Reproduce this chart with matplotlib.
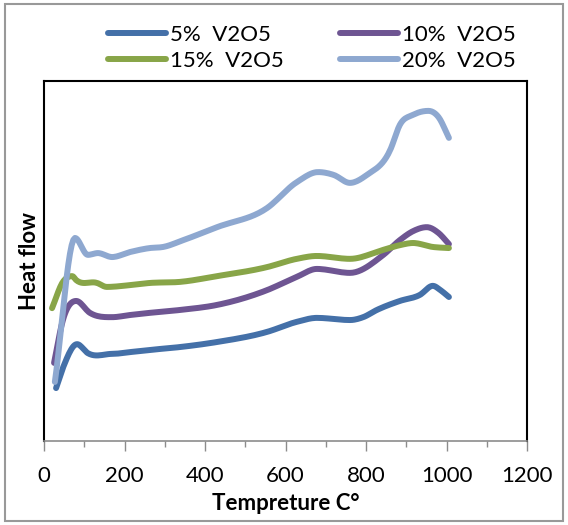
import matplotlib
matplotlib.use("Agg")
import numpy as np
import matplotlib.pyplot as plt
from matplotlib.patches import Rectangle
from matplotlib.ticker import MultipleLocator

plt.rcParams['font.family'] = ['Lato', 'DejaVu Sans']

# temperature (C) and heat flow (arb. units) for each V2O5 loading
t_5 = [30, 48, 82, 109, 169, 214, 263, 338, 430, 554, 628, 678, 760, 793, 827, 884, 934, 966, 985, 1006]
hf_5 = [1.47, 2.06, 2.69, 2.44, 2.42, 2.47, 2.53, 2.61, 2.75, 3.03, 3.31, 3.42, 3.36, 3.44, 3.64, 3.89, 4.06, 4.31, 4.19, 4.00]

t_10 = [25, 47, 80, 114, 169, 214, 263, 338, 430, 554, 628, 678, 760, 843, 884, 917, 951, 980, 1006]
hf_10 = [2.17, 3.36, 3.89, 3.56, 3.44, 3.50, 3.56, 3.64, 3.78, 4.19, 4.56, 4.78, 4.67, 5.17, 5.58, 5.83, 5.94, 5.78, 5.47]

t_15 = [20, 47, 70, 80, 132, 156, 214, 263, 338, 430, 554, 628, 678, 760, 843, 884, 917, 966, 1006]
hf_15 = [3.69, 4.42, 4.58, 4.47, 4.39, 4.28, 4.33, 4.39, 4.42, 4.58, 4.83, 5.06, 5.14, 5.06, 5.31, 5.44, 5.50, 5.39, 5.36]

t_20 = [27, 77, 109, 134, 169, 214, 263, 296, 346, 430, 554, 628, 681, 720, 760, 802, 860, 884, 917, 955, 980, 1006]
hf_20 = [1.64, 5.64, 5.17, 5.22, 5.11, 5.25, 5.36, 5.39, 5.58, 5.94, 6.47, 7.19, 7.47, 7.39, 7.17, 7.39, 8.08, 8.78, 9.06, 9.17, 9.00, 8.42]

series = [
    ('5%  V2O5', t_5, hf_5, '#4470A8'),
    ('10%  V2O5', t_10, hf_10, '#6E5592'),
    ('15%  V2O5', t_15, hf_15, '#88A548'),
    ('20%  V2O5', t_20, hf_20, '#8EA8D0'),
]


def smooth_line(x, y, steps=12):
    """Cubic Hermite curve through the points, slopes from neighbouring points."""
    x = np.asarray(x, float)
    y = np.asarray(y, float)
    m = np.gradient(y, x)
    # keep local peaks/dips flat so the curve does not overshoot there
    for i in range(1, len(y) - 1):
        if (y[i] - y[i - 1]) * (y[i + 1] - y[i]) <= 0:
            m[i] = 0.0
    s = np.linspace(0, 1, steps, endpoint=False)
    h00 = 2 * s ** 3 - 3 * s ** 2 + 1
    h10 = s ** 3 - 2 * s ** 2 + s
    h01 = -2 * s ** 3 + 3 * s ** 2
    h11 = s ** 3 - s ** 2
    xs, ys = [], []
    for i in range(len(x) - 1):
        dx = x[i + 1] - x[i]
        xs.extend(x[i] + s * dx)
        ys.extend(h00 * y[i] + h10 * dx * m[i] + h01 * y[i + 1] + h11 * dx * m[i + 1])
    xs.append(x[-1])
    ys.append(y[-1])
    return xs, ys


fig = plt.figure(figsize=(5.68, 5.25), dpi=100)
W, H = 568, 525
ax = fig.add_axes([44 / W, 1 - 441 / H, (527 - 44) / W, (441 - 81) / H])

lines = {}
for label, t, hf, color in series:
    sx, sy = smooth_line(t, hf)
    ln, = ax.plot(sx, sy, color=color, lw=4.3, solid_capstyle='round',
                  solid_joinstyle='round', label=label)
    lines[label] = ln

ax.set_xlim(0, 1200)
ax.set_ylim(0, 10)
ax.xaxis.set_major_locator(MultipleLocator(200))
ax.xaxis.set_minor_locator(MultipleLocator(100))
ax.tick_params(axis='x', which='major', length=7, width=1, color='#8c8c8c',
               labelsize=16, pad=11)
ax.tick_params(axis='x', which='minor', length=4, width=1, color='#8c8c8c')
ax.set_yticks([])
for side in ['left', 'top', 'right']:
    ax.spines[side].set_color('black')
    ax.spines[side].set_linewidth(1.5)
ax.spines['bottom'].set_color('#8c8c8c')
ax.spines['bottom'].set_linewidth(1.2)

ax.set_xlabel('Tempreture C°', fontsize=16, fontweight='bold', labelpad=5)
ax.set_ylabel('Heat flow', fontsize=16, fontweight='bold', labelpad=3)

# legend reads row by row: 5%, 10% / 15%, 20%
order = ['5%  V2O5', '15%  V2O5', '10%  V2O5', '20%  V2O5']
fig.legend(handles=[lines[k] for k in order], ncol=2, loc='center',
           bbox_to_anchor=(312 / W, 1 - 48 / H),
           frameon=False, fontsize=16, handlelength=2.6, handletextpad=0.2,
           columnspacing=2.5, labelspacing=0.25)

# outer chart border
fig.patches.append(Rectangle((5 / W, 4 / H), (563 - 5) / W, (521 - 4) / H,
                             transform=fig.transFigure, fill=False,
                             edgecolor='#999999', lw=1.5))

fig.savefig('out.png', dpi=100)
